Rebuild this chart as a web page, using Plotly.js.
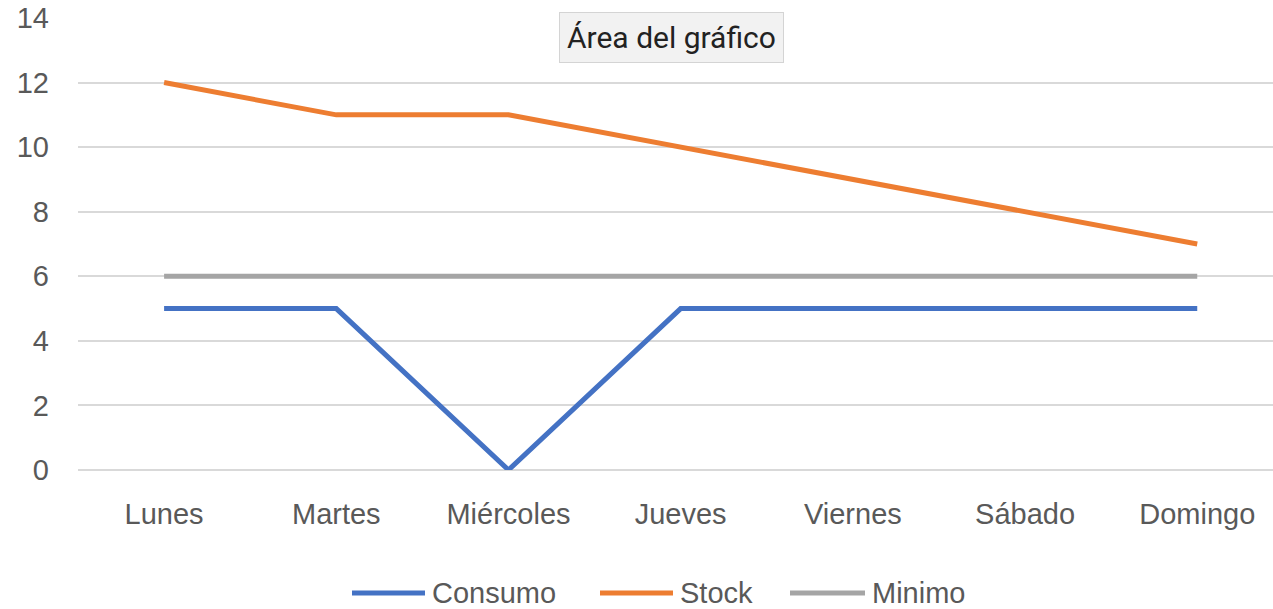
<!DOCTYPE html>
<html>
<head>
<meta charset="utf-8">
<script src="https://cdn.plot.ly/plotly-3.0.1.min.js"></script>
<style>html,body{margin:0;padding:0;background:#fff;}#chart{width:1273px;height:609px;}</style>
</head>
<body>
<div id="chart"></div>
<script>
const categories = ["Lunes", "Martes", "Miércoles", "Jueves", "Viernes", "Sábado", "Domingo"];
const consumo = [5, 5, 0, 5, 5, 5, 5];
const stock = [12, 11, 11, 10, 9, 8, 7];
const minimo = [6, 6, 6, 6, 6, 6, 6];
const yTicks = [0, 2, 4, 6, 8, 10, 12, 14];
const seriesNames = ["Consumo", "Stock", "Minimo"];
const seriesColors = ["#4472C4", "#ED7D31", "#A5A5A5"];

const font = "Liberation Sans, Arial, sans-serif";
const L = 78, R = 1273, T = 18, B = 470;
const px = v => (v - L) / (R - L);
const py = v => (B - v) / (B - T);

const seriesValues = [consumo, stock, minimo];
const data = seriesNames.map((n, i) => ({
  x: categories, y: seriesValues[i], name: n, type: "scatter", mode: "lines",
  line: {color: seriesColors[i], width: 5}, hoverinfo: "skip", showlegend: false
}));

// custom legend (Excel style: long line sample)
const legendLine = [[352, 425], [600, 673], [790, 865]];
const legendY = py(593);
const shapes = legendLine.map((s, i) => ({
  type: "line", xref: "paper", yref: "paper", x0: px(s[0]), x1: px(s[1]), y0: legendY, y1: legendY,
  line: {color: seriesColors[i], width: 5}
}));
const annotations = legendLine.map((s, i) => ({
  xref: "paper", yref: "paper", x: px(s[1] + 5), y: legendY, xanchor: "left", yanchor: "middle",
  showarrow: false, text: seriesNames[i], font: {family: font, size: 29, color: "#595959"}
}));
annotations.push({
  xref: "paper", yref: "paper", x: px(671), y: py(38),
  xanchor: "center", yanchor: "middle", showarrow: false,
  text: "Área del gráfico", font: {family: "Roboto, Liberation Sans, sans-serif", size: 30, color: "#222222"},
  bgcolor: "#f2f2f2", bordercolor: "#d4d4d4", borderwidth: 1, borderpad: 7
});

const layout = {
  width: 1273, height: 609,
  margin: {l: L, r: 1273 - R, t: T, b: 609 - B, autoexpand: false},
  paper_bgcolor: "#ffffff", plot_bgcolor: "#ffffff",
  font: {family: font, color: "#595959", size: 29},
  showlegend: false,
  xaxis: {type: "category", categoryorder: "array", categoryarray: categories,
    range: [-0.5, 6.44], showgrid: false, zeroline: false, showline: false,
    ticks: "", ticklabelstandoff: 24, tickfont: {size: 29, color: "#595959"}},
  yaxis: {range: [0, 14], tickvals: yTicks, ticktext: yTicks.map(String),
    showgrid: true, gridcolor: "#d9d9d9", gridwidth: 2, zeroline: true, zerolinecolor: "#d9d9d9", zerolinewidth: 2,
    showline: false, ticks: "", ticklabelstandoff: 28, tickfont: {size: 29, color: "#595959"}},
  shapes: shapes,
  annotations: annotations
};
Plotly.newPlot("chart", data, layout, {displayModeBar: false, staticPlot: true});
</script>
</body>
</html>
